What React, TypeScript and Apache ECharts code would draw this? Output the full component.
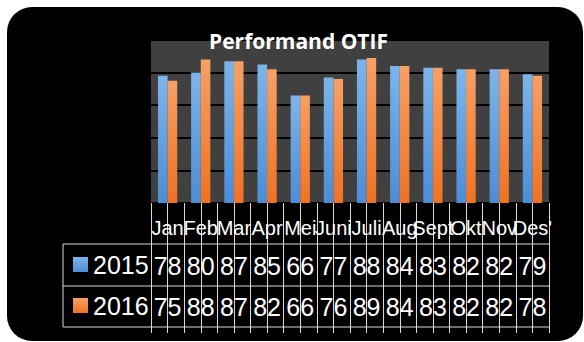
import React, { useEffect, useRef } from "react";
import * as echarts from "echarts";

const months = ["Jan", "Feb", "Mar", "Apr", "Mei", "Juni", "Juli", "Aug", "Sept", "Okt", "Nov", "Des'"];
const values2015 = [78, 80, 87, 85, 66, 77, 88, 84, 83, 82, 82, 79];
const values2016 = [75, 88, 87, 82, 66, 76, 89, 84, 83, 82, 82, 78];
const seriesNames = ["2015", "2016"];
const titleText = "Performand OTIF";

const W = 584;
const H = 342;
const GRID_L = 151;
const GRID_R = 549;
const GRID_T = 40;
const GRID_B = 203;
const LINE = "#d9d9d9";
const NUM_FONT = "'Liberation Sans Narrow', 'Liberation Sans', Arial, sans-serif";

function grad(top: string, bottom: string) {
  return new echarts.graphic.LinearGradient(0, 0, 0, 1, [
    { offset: 0, color: top },
    { offset: 1, color: bottom },
  ]);
}

export default function App() {
  const ref = useRef<HTMLDivElement>(null);
  useEffect(() => {
    if (!ref.current) return;
    const chart = echarts.init(ref.current, undefined, { renderer: "svg" });
    const tickAxis = (align: boolean) => ({
      type: "category" as const,
      data: months,
      position: "bottom" as const,
      boundaryGap: true,
      axisLine: { show: false },
      axisTick: {
        show: true,
        interval: 0,
        alignWithLabel: align,
        length: 130,
        lineStyle: { color: LINE, width: 1 },
      },
      axisLabel: { show: false },
    });
    const rowAxis = (vals: number[], margin: number) => ({
      type: "category" as const,
      data: months,
      position: "bottom" as const,
      axisLine: { show: false },
      axisTick: { show: false },
      axisLabel: {
        show: true,
        interval: 0,
        margin,
        color: "#ffffff",
        fontSize: 25,
        fontFamily: NUM_FONT,
        formatter: (_v: string, i: number) => String(vals[i]),
      },
    });
    chart.setOption({
      animation: false,
      backgroundColor: "#ffffff",
      title: {
        text: titleText,
        left: 209,
        top: 30,
        padding: 0,
        textStyle: {
          color: "#ffffff",
          fontSize: 21,
          fontWeight: "bold",
          fontFamily: "'Open Sans', sans-serif",
        },
      },
      legend: {
        orient: "vertical",
        left: 73,
        top: 252,
        padding: 0,
        itemWidth: 15,
        itemHeight: 15,
        itemGap: 16,
        icon: "rect",
        textStyle: { color: "#ffffff", fontSize: 25, fontFamily: NUM_FONT, padding: [0, 0, 0, 0] },
        data: seriesNames,
      },
      grid: {
        left: GRID_L,
        right: W - GRID_R,
        top: GRID_T,
        bottom: H - GRID_B,
        show: true,
        backgroundColor: "#404040",
        borderWidth: 0,
      },
      xAxis: [
        {
          type: "category",
          data: months,
          position: "bottom",
          boundaryGap: true,
          axisLine: { show: false },
          axisTick: {
            show: true,
            interval: 0,
            alignWithLabel: false,
            length: 130,
            lineStyle: { color: LINE, width: 1 },
          },
          axisLabel: {
            show: true,
            interval: 0,
            margin: 15,
            color: "#ffffff",
            fontSize: 20,
            fontFamily: "'Liberation Sans', Arial, sans-serif",
          },
        },
        tickAxis(true),
        rowAxis(values2015, 50),
        rowAxis(values2016, 91),
      ],
      yAxis: {
        type: "value",
        min: 0,
        max: 100,
        interval: 20,
        axisLabel: { show: false },
        axisLine: { show: false },
        axisTick: { show: false },
        splitLine: { show: true, lineStyle: { color: "#000000", width: 2 } },
      },
      series: [
        {
          name: seriesNames[0],
          type: "bar",
          data: values2015,
          barGap: "0%",
          barCategoryGap: "42%",
          itemStyle: { color: grad("#7db4ea", "#4c8dd5") },
        },
        {
          name: seriesNames[1],
          type: "bar",
          data: values2016,
          itemStyle: { color: grad("#f6a066", "#ee7224") },
        },
      ],
      graphic: [
        {
          type: "rect",
          z: -100,
          shape: { x: 7, y: 7, width: 576, height: 334, r: 25 },
          style: { fill: "#000000" },
        },
        {
          type: "line",
          shape: { x1: 63, y1: 244, x2: GRID_R, y2: 244 },
          style: { stroke: LINE, lineWidth: 1 },
        },
        {
          type: "line",
          shape: { x1: 63, y1: 286, x2: GRID_R, y2: 286 },
          style: { stroke: LINE, lineWidth: 1 },
        },
        {
          type: "line",
          shape: { x1: 63, y1: 327, x2: GRID_R, y2: 327 },
          style: { stroke: LINE, lineWidth: 1 },
        },
        {
          type: "line",
          shape: { x1: 63, y1: 244, x2: 63, y2: 327 },
          style: { stroke: LINE, lineWidth: 1 },
        },
      ],
    });
    return () => chart.dispose();
  }, []);
  return (
    <div
      ref={ref}
      style={{ position: "absolute", left: 0, top: 0, width: W, height: H }}
    />
  );
}
